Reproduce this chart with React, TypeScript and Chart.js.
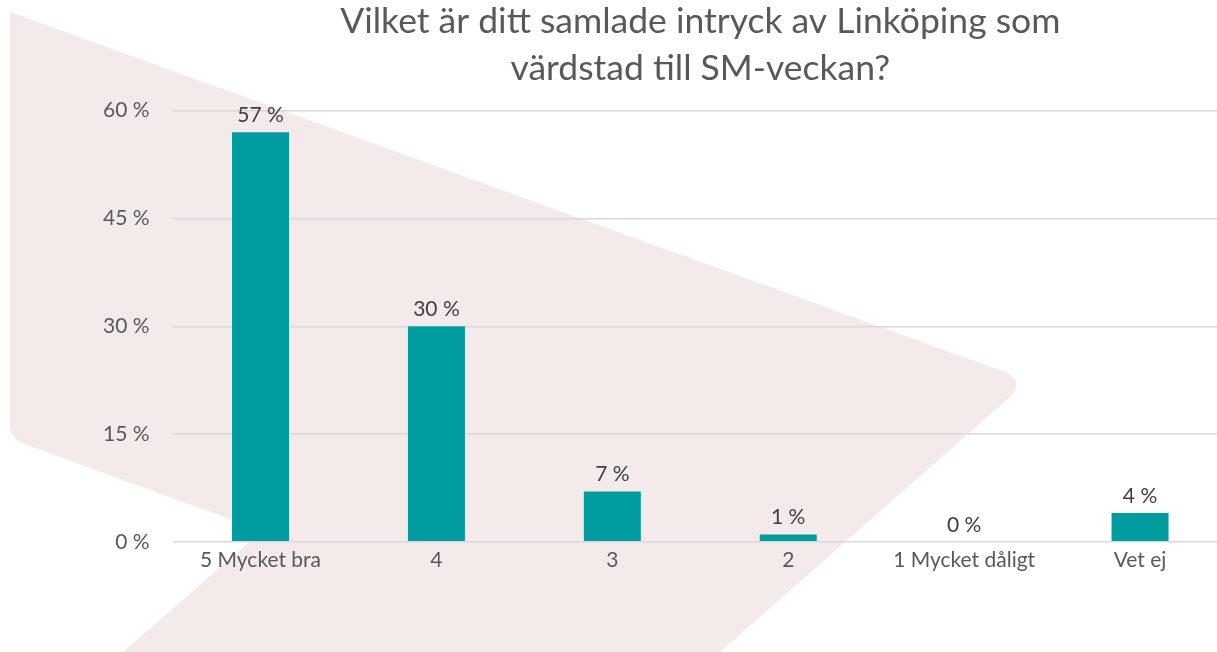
import React, { useEffect, useRef } from "react";
import { Chart, registerables } from "chart.js";

Chart.register(...registerables);

const titleLines = ["Vilket är ditt samlade intryck av Linköping som", "värdstad till SM-veckan?"];
const categories = ["5 Mycket bra", "4", "3", "2", "1 Mycket dåligt", "Vet ej"];
const values = [57, 30, 7, 1, 0, 4];
const yTicks = [0, 15, 30, 45, 60];

const FONT = "Lato, 'Open Sans', sans-serif";

export default function App() {
  const ref = useRef<HTMLCanvasElement | null>(null);

  useEffect(() => {
    const canvas = ref.current;
    if (!canvas) return;

    const centerTitle = {
      id: "centerTitle",
      afterLayout(chart: any) {
        const tb = chart.titleBlock;
        if (tb) {
          tb.left = chart.chartArea.left;
          tb.right = chart.chartArea.right;
          tb.width = tb.right - tb.left;
        }
      },
    };

    const valueLabels = {
      id: "valueLabels",
      afterDatasetsDraw(chart: any) {
        const ctx = chart.ctx;
        const meta = chart.getDatasetMeta(0);
        ctx.save();
        ctx.font = `21px ${FONT}`;
        ctx.fillStyle = "#404040";
        ctx.textAlign = "center";
        ctx.textBaseline = "middle";
        meta.data.forEach((bar: any, i: number) => {
          ctx.fillText(`${values[i]} %`, bar.x, bar.y - 17);
        });
        ctx.restore();
      },
    };

    const chart = new Chart(canvas, {
      type: "bar",
      data: {
        labels: categories,
        datasets: [
          {
            data: values,
            backgroundColor: "#009C9F",
            borderWidth: 0,
            categoryPercentage: 1,
            barPercentage: 0.324,
          },
        ],
      },
      options: {
        responsive: false,
        animation: false,
        devicePixelRatio: 1,
        layout: { padding: { top: 0, left: 80, right: 12, bottom: 81 } },
        plugins: {
          legend: { display: false },
          tooltip: { enabled: false },
          title: {
            display: true,
            text: titleLines,
            color: "#595959",
            font: { family: FONT, size: 35.5, weight: "normal", lineHeight: 1.32 },
            padding: { top: -2, bottom: 19 },
          },
        },
        scales: {
          x: {
            grid: { display: false },
            border: { display: false },
            ticks: {
              color: "#595959",
              font: { family: FONT, size: 21 },
              padding: -2,
              maxRotation: 0,
              autoSkip: false,
            },
          },
          y: {
            min: 0,
            max: 60,
            afterBuildTicks(axis: any) {
              axis.ticks = yTicks.map((v) => ({ value: v }));
            },
            grid: { color: "#D9D9D9", lineWidth: 1.5, drawTicks: false },
            border: { display: false },
            ticks: {
              color: "#595959",
              font: { family: FONT, size: 21 },
              padding: 23,
              callback: (v: any) => `${v} %`,
            },
          },
        },
      },
      plugins: [centerTitle, valueLabels],
    } as any);

    return () => chart.destroy();
  }, []);

  return (
    <div
      style={{
        position: "fixed",
        left: 0,
        top: 0,
        width: 1217,
        height: 652,
        overflow: "hidden",
        background: "#ffffff",
      }}
    >
      <svg
        width={1217}
        height={652}
        style={{ position: "absolute", left: 0, top: 0 }}
      >
        <path
          d="M10,12 L1005,372 Q1024,380 1011,396 L720,652 L123,652 L262,531 L30,446 Q10,440 10,425 Z"
          fill="#F5EAEA"
        />
      </svg>
      <canvas
        ref={ref}
        width={1240}
        height={652}
        style={{ position: "absolute", left: 0, top: 0, width: 1240, height: 652 }}
      />
    </div>
  );
}
